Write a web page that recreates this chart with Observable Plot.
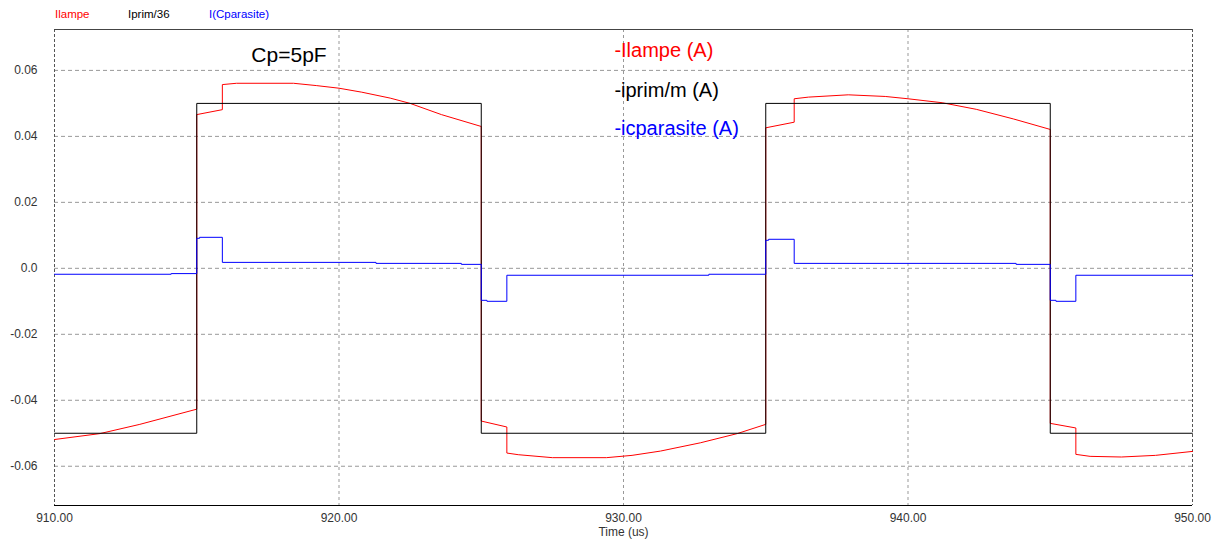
<!DOCTYPE html>
<html>
<head>
<meta charset="utf-8">
<script src="https://cdn.jsdelivr.net/npm/d3@7"></script>
<script src="https://cdn.jsdelivr.net/npm/@observablehq/plot@0.6"></script>
<style>
  html, body { margin: 0; padding: 0; background: #fff; }
  #wrap { position: relative; width: 1227px; height: 540px; font-family: "Liberation Sans", Arial, sans-serif; }
  #legend { position: absolute; top: 8px; left: 0; width: 1227px; height: 16px; font-size: 11.5px; }
  #legend span { position: absolute; top: 0; white-space: nowrap; }
</style>
</head>
<body>
<div id="wrap">
  <div id="legend"></div>
</div>
<script>
// ---- data ----
const legendNames = ["Ilampe", "Iprim/36", "I(Cparasite)"];
const legendColors = ["#ff0000", "#000000", "#0000ff"];

// Iprim/36 square wave (step-after)
const tPrim = [910, 915, 925, 935, 945, 950];
const vPrim = [-0.05, 0.05, -0.05, 0.05, -0.05, -0.05];

// Ilampe (A)
const tLampe = [910, 911.6, 913.0, 915.0, 915.0, 915.9, 915.9, 916.4, 918.4, 919.2, 920.0, 920.8, 921.8, 922.5, 923.6, 925.0,
                925.0, 925.9, 925.9, 926.3, 927.5, 929.4, 930.3, 931.3, 932.7, 934.0, 935.0,
                935.0, 936.0, 936.0, 936.5, 937.9, 939.2, 940.0, 941.2, 942.4, 943.7, 945.0,
                945.0, 945.9, 945.9, 946.4, 947.5, 948.7, 950];
const vLampe = [-0.0519, -0.0501, -0.0473, -0.0427, 0.0466, 0.0481, 0.0557, 0.0561, 0.0561, 0.0554, 0.0546, 0.0534, 0.0516, 0.0500, 0.0466, 0.0430,
                -0.0463, -0.0481, -0.0560, -0.0565, -0.0574, -0.0574, -0.0567, -0.0554, -0.0529, -0.0501, -0.0473,
                0.0426, 0.0443, 0.0514, 0.0519, 0.0526, 0.0521, 0.0514, 0.0502, 0.0482, 0.0453, 0.0421,
                -0.0470, -0.0484, -0.0564, -0.0570, -0.0572, -0.0567, -0.0555];

// I(Cparasite) (step-after)
const tCpar = [910, 914.1, 915, 915.1, 915.9, 921.3, 924.3, 925, 925.2, 925.9, 933, 935, 935.1, 936, 943.8, 945, 945.2, 945.9, 950];
const vCpar = [-0.0018, -0.0016, 0.0091, 0.0094, 0.0018, 0.0015, 0.0012, -0.0097, -0.0100, -0.0021, -0.0018, 0.0085, 0.0088, 0.0015, 0.0012, -0.0097, -0.0100, -0.0021, -0.0021];

// axis ticks
const xTicks = [910, 920, 930, 940, 950];
const yTicks = [-0.06, -0.04, -0.02, 0, 0.02, 0.04, 0.06];

// in-plot annotations
const noteText = ["Cp=5pF"];
const noteX = [916.92];
const noteY = [0.0646];
const keyText = ["-Ilampe (A)", "-iprim/m (A)", "-icparasite (A)"];
const keyColor = ["#ff0000", "#000000", "#0000ff"];
const keyX = [929.68, 929.68, 929.68];
const keyY = [0.0659, 0.0539, 0.0424];

// ---- build ----
const zip = (t, v) => t.map((d, i) => ({t: d, v: v[i]}));
const prim = zip(tPrim, vPrim);
const lampe = zip(tLampe, vLampe);
const cpar = zip(tCpar, vCpar);
const notes = noteText.map((s, i) => ({s, x: noteX[i], y: noteY[i]}));
const keys = keyText.map((s, i) => ({s, x: keyX[i], y: keyY[i], c: keyColor[i]}));

const yDomain = [-0.0719, 0.0724];
const xDomain = [910, 950];

const chart = Plot.plot({
  width: 1227,
  height: 540,
  marginTop: 29,
  marginBottom: 35,
  marginLeft: 54,
  marginRight: 35,
  style: {fontFamily: "'Liberation Sans', Arial, sans-serif", fontSize: "12px", color: "#333", background: "#fff"},
  x: {domain: xDomain},
  y: {domain: yDomain},
  marks: [
    Plot.ruleY(yTicks, {stroke: "#999", strokeDasharray: "4,3", strokeWidth: 1}),
    Plot.ruleX(xTicks.slice(1, -1), {stroke: "#999", strokeDasharray: "3,3", strokeWidth: 1}),
    Plot.ruleX([xDomain[0], xDomain[1]], {stroke: "#555", strokeDasharray: "3,2", strokeWidth: 1}),
    Plot.ruleY([yDomain[1]], {stroke: "#444", strokeWidth: 1}),
    Plot.ruleY([yDomain[0]], {stroke: "#000", strokeWidth: 1.2}),
    Plot.line(lampe, {x: "t", y: "v", stroke: "#ff0000", strokeWidth: 1}),
    Plot.line(prim, {x: "t", y: "v", stroke: "#000", strokeWidth: 1, curve: "step-after"}),
    Plot.line(cpar, {x: "t", y: "v", stroke: "#0000ff", strokeWidth: 1, curve: "step-after"}),
    Plot.axisY(yTicks, {tickSize: 0, tickPadding: 17, tickFormat: d => d === 0 ? "0.0" : d.toFixed(2), label: null, fill: "#333", fontSize: 12}),
    Plot.axisX(xTicks, {tickSize: 0, tickPadding: 8, tickFormat: d => d.toFixed(2), label: "Time (us)", labelAnchor: "center", labelArrow: "none", labelOffset: 30, fill: "#333", fontSize: 12}),
    Plot.text(notes, {x: "x", y: "y", text: "s", textAnchor: "start", fontSize: 21, fill: "#000"}),
    Plot.text(keys, {x: "x", y: "y", text: "s", textAnchor: "start", fontSize: 20, fill: "c"})
  ]
});
document.getElementById("wrap").appendChild(chart);

// top legend (names of series)
const legendX = [55, 128, 209];
const lg = document.getElementById("legend");
legendNames.forEach((n, i) => {
  const s = document.createElement("span");
  s.textContent = n;
  s.style.left = legendX[i] + "px";
  s.style.color = legendColors[i];
  lg.appendChild(s);
});
chart.style.position = "absolute";
chart.style.top = "0";
chart.style.left = "0";
lg.style.zIndex = 2;
</script>
</body>
</html>
